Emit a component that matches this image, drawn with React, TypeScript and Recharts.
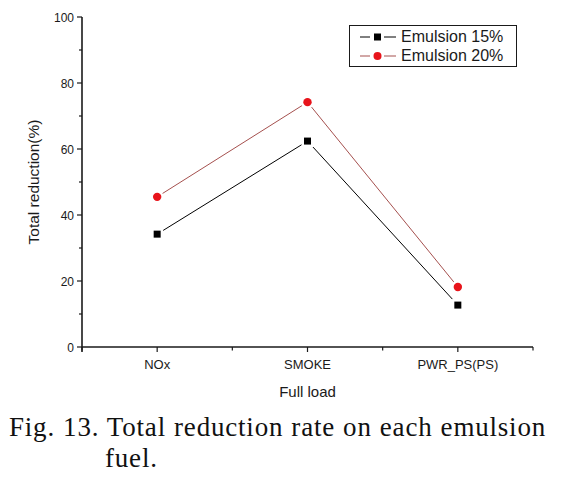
import { Line, LineChart, XAxis, YAxis } from "recharts";

const categories = ["NOx", "SMOKE", "PWR_PS(PS)"];
const emulsion15 = [34.2, 62.4, 12.7];
const emulsion20 = [45.5, 74.2, 18.2];
const yTicks = [0, 10, 20, 30, 40, 50, 60, 70, 80, 90, 100];
const xTicks = [0.5, 1, 1.5, 2, 2.5, 3, 3.5];

const data = categories.map((c, i) => ({
  pos: i + 1,
  name: c,
  e15: emulsion15[i],
  e20: emulsion20[i],
}));

const INK = "#1a1a1a";
const RED = "#e8141b";
const BROWN = "#a5504e";
const FONT = "'Liberation Sans', Arial, sans-serif";

function YTick(props: any) {
  const { x, y, payload } = props;
  const major = payload.value % 20 === 0;
  return (
    <g>
      <line x1={x} x2={x - (major ? 5 : 3)} y1={y} y2={y} stroke={INK} strokeWidth={1.2} />
      {/* axis runs a little past the origin, as in the original plot */}
      {payload.value === 0 && <line x1={x} x2={x} y1={y} y2={y + 5} stroke={INK} strokeWidth={1.6} />}
      {major && (
        <text x={x - 8} y={y} dy={4.5} textAnchor="end" fontSize={12} fill={INK} fontFamily={FONT}>
          {payload.value}
        </text>
      )}
    </g>
  );
}

function XTick(props: any) {
  const { x, y, payload } = props;
  const v = payload.value as number;
  const major = Number.isInteger(v);
  return (
    <g>
      <line x1={x} x2={x} y1={y} y2={y + (major ? 5 : 3.5)} stroke={INK} strokeWidth={1.2} />
      {major && (
        <text x={x} y={y} dy={22} textAnchor="middle" fontSize={13} fill={INK} fontFamily={FONT}>
          {categories[v - 1]}
        </text>
      )}
    </g>
  );
}

function SquareDot(props: any) {
  const { cx, cy, index } = props;
  return (
    <g key={`sq-${index}`}>
      <rect x={cx - 6} y={cy - 6} width={12} height={12} fill="#fff" />
      <rect x={cx - 3.5} y={cy - 3.5} width={7} height={7} fill="#000" />
    </g>
  );
}

function CircleDot(props: any) {
  const { cx, cy, index } = props;
  return (
    <g key={`ci-${index}`}>
      <circle cx={cx} cy={cy} r={6.5} fill="#fff" />
      <circle cx={cx} cy={cy} r={4.2} fill={RED} />
    </g>
  );
}

function LegendBox() {
  const row = (color: string, lineColor: string, label: string, square: boolean) => (
    <div style={{ display: "flex", alignItems: "center", height: 19 }}>
      <svg width={40} height={12} style={{ marginRight: 3 }}>
        <line x1={2} x2={12} y1={6} y2={6} stroke={lineColor} strokeWidth={1} />
        <line x1={26} x2={38} y1={6} y2={6} stroke={lineColor} strokeWidth={1} />
        {square ? (
          <rect x={16} y={2.5} width={7} height={7} fill={color} />
        ) : (
          <circle cx={19.5} cy={6} r={4} fill={color} />
        )}
      </svg>
      <span>{label}</span>
    </div>
  );
  return (
    <div
      style={{
        position: "absolute",
        left: 349,
        top: 25,
        border: `1.2px solid ${INK}`,
        padding: "1px 0 1px 8px",
        width: 158,
        fontFamily: FONT,
        fontSize: 16,
        color: INK,
        background: "#fff",
        lineHeight: "19px",
      }}
    >
      {row("#000", "#000", "Emulsion 15%", true)}
      {row(RED, BROWN, "Emulsion 20%", false)}
    </div>
  );
}

export default function App() {
  return (
    <div style={{ position: "absolute", left: 0, top: 0, width: 563, height: 482, background: "#fff" }}>
      <LineChart
        width={563}
        height={400}
        data={data}
        margin={{ top: 17, right: 30, bottom: 0, left: 0 }}
      >
        <XAxis
          dataKey="pos"
          type="number"
          domain={[0.5, 3.5]}
          ticks={xTicks}
          interval={0}
          height={53}
          tickSize={0}
          tickMargin={0}
          tickLine={false}
          tick={<XTick />}
          stroke={INK}
          strokeWidth={1.6}
          label={{ value: "Full load", position: "insideBottom", offset: 3, fontSize: 15, fill: INK, fontFamily: FONT }}
        />
        <YAxis
          type="number"
          domain={[0, 100]}
          ticks={yTicks}
          interval={0}
          width={82}
          tickSize={0}
          tickMargin={0}
          tickLine={false}
          tick={<YTick />}
          stroke={INK}
          strokeWidth={1.6}
          label={{ value: "Total reduction(%)", angle: -90, position: "center", dx: -8, fontSize: 15.5, fill: INK, fontFamily: FONT }}
        />
        <Line
          type="linear"
          dataKey="e20"
          name="Emulsion 20%"
          stroke={BROWN}
          strokeWidth={1}
          dot={<CircleDot />}
          isAnimationActive={false}
        />
        <Line
          type="linear"
          dataKey="e15"
          name="Emulsion 15%"
          stroke="#000"
          strokeWidth={1}
          dot={<SquareDot />}
          isAnimationActive={false}
        />
      </LineChart>
      <LegendBox />
      <div
        style={{
          position: "absolute",
          left: 9,
          top: 412,
          width: 537,
          fontFamily: "'Liberation Serif', 'DejaVu Serif', serif",
          fontSize: 27,
          letterSpacing: 0.8,
          lineHeight: "31px",
          color: "#111",
          textAlign: "justify",
          paddingLeft: 96,
          textIndent: -96,
          boxSizing: "border-box",
        }}
      >
        Fig. 13. Total reduction rate on each emulsion fuel.
      </div>
    </div>
  );
}
